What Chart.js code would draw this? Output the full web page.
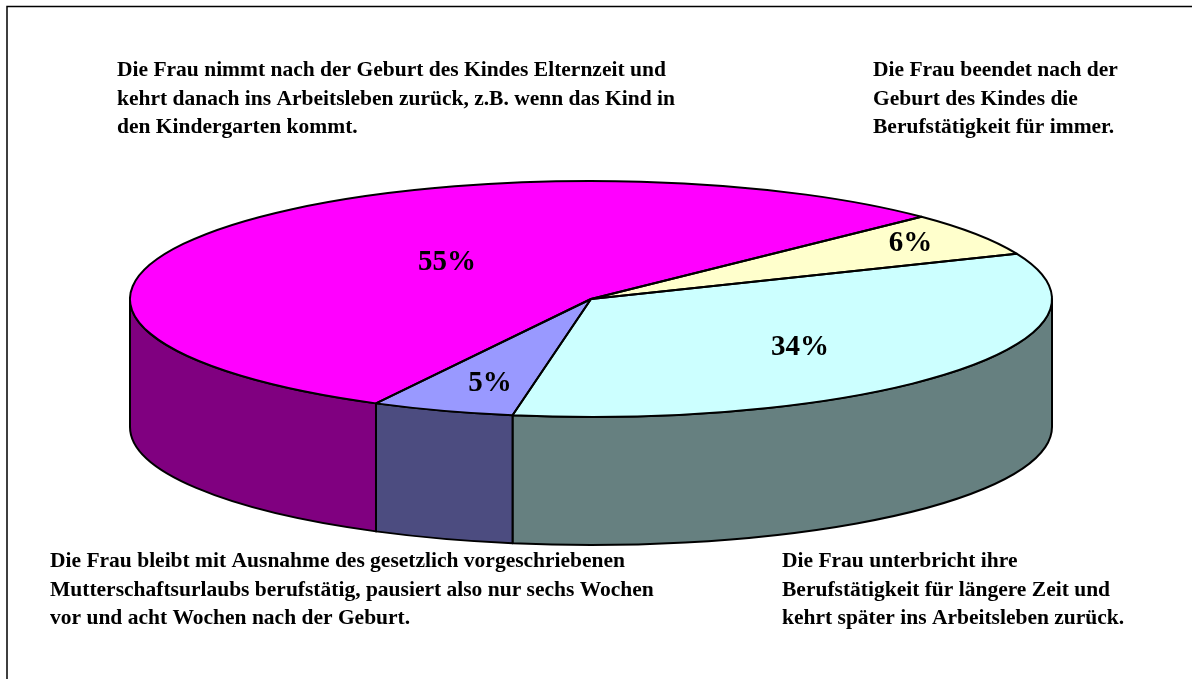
<!DOCTYPE html>
<html><head><meta charset="utf-8">
<script src="https://cdn.jsdelivr.net/npm/chart.js@4.4.0/dist/chart.umd.min.js"></script>
<style>html,body{margin:0;padding:0;background:#fff;overflow:hidden}</style>
</head><body>
<canvas id="c" width="1192" height="679" style="display:block;width:1192px;height:679px"></canvas>
<script>
// ---- data ----
const categories = [
  ["Die Frau nimmt nach der Geburt des Kindes Elternzeit und", "kehrt danach ins Arbeitsleben zurück, z.B. wenn das Kind in", "den Kindergarten kommt."],
  ["Die Frau beendet nach der", "Geburt des Kindes die", "Berufstätigkeit für immer."],
  ["Die Frau unterbricht ihre", "Berufstätigkeit für längere Zeit und", "kehrt später ins Arbeitsleben zurück."],
  ["Die Frau bleibt mit Ausnahme des gesetzlich vorgeschriebenen", "Mutterschaftsurlaubs berufstätig, pausiert also nur sechs Wochen", "vor und acht Wochen nach der Geburt."]
];
const shares = [55, 6, 34, 5];
const topColors = ['#FF00FF', '#FFFFCC', '#CCFFFF', '#9999FF'];
const sideColors = ['#800080', '#808066', '#668080', '#4C4C80'];

// ---- layout (not data) ----
const GEO = { rx: 461, ry: 118, depth: 128 };
const LABEL_POS = [ {f: 0.39, dy: -9}, {f: 0.83, dy: -2}, {f: 0.58, dy: 6}, {f: 0.68, dy: 9} ];
const CAT_POS = [ {x: 117, y: 76}, {x: 873, y: 76}, {x: 782, y: 567}, {x: 50, y: 567} ];
const LINE_H = 28.6;
const SERIF = '"Liberation Serif", "Times New Roman", Times, serif';

function segs(s, e) {
  const out = [];
  for (let k = -1; k <= 2; k++) {
    const a = Math.max(s, 2 * Math.PI * k), b = Math.min(e, 2 * Math.PI * k + Math.PI);
    if (b > a) out.push([a, b]);
  }
  return out;
}

const pie3d = {
  id: 'pie3d',
  beforeDraw(chart) {
    const ctx = chart.ctx;
    ctx.save();
    ctx.fillStyle = '#fff';
    ctx.fillRect(0, 0, chart.width, chart.height);
    ctx.strokeStyle = '#000';
    ctx.lineWidth = 1.5;
    ctx.beginPath();
    ctx.moveTo(7, chart.height + 2);
    ctx.lineTo(7, 6.5);
    ctx.lineTo(chart.width + 2, 6.5);
    ctx.stroke();
    ctx.restore();
  },
  beforeDatasetsDraw(chart) {
    const ctx = chart.ctx;
    const arcs = chart.getDatasetMeta(0).data;
    const cx = arcs[0].x, cy = arcs[0].y, R = arcs[0].outerRadius;
    const { rx, ry, depth } = GEO;
    ctx.save();
    ctx.lineWidth = 2;
    ctx.lineJoin = 'round';
    ctx.strokeStyle = '#000';
    arcs.forEach((arc, i) => {
      segs(arc.startAngle, arc.endAngle).forEach(([a, b]) => {
        ctx.beginPath();
        ctx.ellipse(cx, cy, rx, ry, 0, a, b, false);
        ctx.ellipse(cx, cy + depth, rx, ry, 0, b, a, true);
        ctx.closePath();
        ctx.fillStyle = sideColors[i];
        ctx.fill();
        ctx.stroke();
      });
    });
    ctx.restore();
    ctx.save();
    ctx.translate(cx, cy);
    ctx.scale(rx / R, ry / R);
    ctx.translate(-cx, -cy);
  },
  afterDatasetsDraw(chart) {
    const ctx = chart.ctx;
    ctx.restore();
    const arcs = chart.getDatasetMeta(0).data;
    const cx = arcs[0].x, cy = arcs[0].y;
    const { rx, ry } = GEO;
    ctx.save();
    ctx.lineWidth = 2;
    ctx.lineJoin = 'round';
    ctx.strokeStyle = '#000';
    arcs.forEach((arc) => {
      ctx.beginPath();
      ctx.moveTo(cx, cy);
      ctx.ellipse(cx, cy, rx, ry, 0, arc.startAngle, arc.endAngle, false);
      ctx.closePath();
      ctx.stroke();
    });
    // percentage labels
    const total = shares.reduce((a, b) => a + b, 0);
    ctx.fillStyle = '#000';
    ctx.font = 'bold 29px ' + SERIF;
    ctx.textAlign = 'center';
    ctx.textBaseline = 'middle';
    arcs.forEach((arc, i) => {
      const m = (arc.startAngle + arc.endAngle) / 2;
      const p = LABEL_POS[i];
      const x = cx + p.f * rx * Math.cos(m);
      const y = cy + p.f * ry * Math.sin(m) + p.dy;
      ctx.fillText(Math.round(shares[i] / total * 100) + '%', x, y);
    });
    // category labels
    ctx.font = 'bold 21.5px ' + SERIF;
    ctx.textAlign = 'left';
    ctx.textBaseline = 'alphabetic';
    chart.data.labels.forEach((lines, i) => {
      const p = CAT_POS[i];
      lines.forEach((t, j) => ctx.fillText(t, p.x, p.y + j * LINE_H));
    });
    ctx.restore();
  }
};

new Chart(document.getElementById('c'), {
  type: 'pie',
  data: {
    labels: categories,
    datasets: [{
      data: shares,
      backgroundColor: topColors,
      borderWidth: 0,
      clip: false,
      hoverOffset: 0
    }]
  },
  options: {
    responsive: false,
    animation: false,
    events: [],
    rotation: 207.8,
    layout: { padding: { left: 0, right: 10, top: 0, bottom: 81 } },
    plugins: { legend: { display: false }, tooltip: { enabled: false } }
  },
  plugins: [pie3d]
});
</script>
</body></html>
